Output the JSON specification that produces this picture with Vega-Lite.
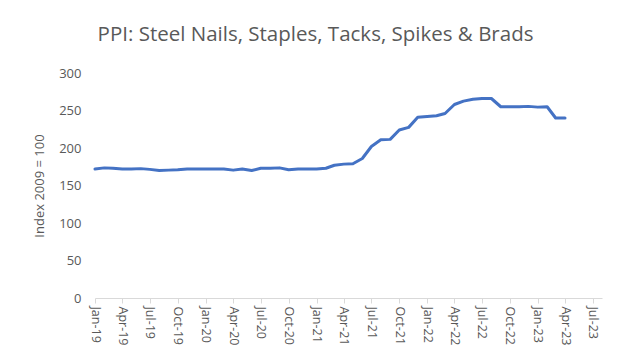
{
  "$schema": "https://vega.github.io/schema/vega-lite/v6.json",
  "autosize": {"type": "none"},
  "width": 507,
  "height": 225,
  "padding": {"left": 95, "top": 73, "right": 16, "bottom": 62},
  "background": "white",
  "title": {
    "text": "PPI: Steel Nails, Staples, Tacks, Spikes & Brads",
    "font": "Open Sans",
    "fontSize": 20.5,
    "fontWeight": "normal",
    "color": "#595959",
    "anchor": "middle",
    "dx": -33,
    "offset": 22
  },
  "config": {
    "view": {"stroke": null},
    "axis": {"labelFont": "Open Sans", "titleFont": "Open Sans", "labelColor": "#595959", "titleColor": "#595959", "grid": false}
  },
  "data": {
    "values": [
      {"date": "2019-01-01", "ppi": 172},
      {"date": "2019-02-01", "ppi": 173.5},
      {"date": "2019-03-01", "ppi": 173},
      {"date": "2019-04-01", "ppi": 172},
      {"date": "2019-05-01", "ppi": 172},
      {"date": "2019-06-01", "ppi": 172.5},
      {"date": "2019-07-01", "ppi": 171.5},
      {"date": "2019-08-01", "ppi": 170},
      {"date": "2019-09-01", "ppi": 170.5},
      {"date": "2019-10-01", "ppi": 171},
      {"date": "2019-11-01", "ppi": 172},
      {"date": "2019-12-01", "ppi": 172},
      {"date": "2020-01-01", "ppi": 172},
      {"date": "2020-02-01", "ppi": 172},
      {"date": "2020-03-01", "ppi": 172},
      {"date": "2020-04-01", "ppi": 170.5},
      {"date": "2020-05-01", "ppi": 172},
      {"date": "2020-06-01", "ppi": 170},
      {"date": "2020-07-01", "ppi": 173},
      {"date": "2020-08-01", "ppi": 173},
      {"date": "2020-09-01", "ppi": 173.5},
      {"date": "2020-10-01", "ppi": 171},
      {"date": "2020-11-01", "ppi": 172},
      {"date": "2020-12-01", "ppi": 172},
      {"date": "2021-01-01", "ppi": 172},
      {"date": "2021-02-01", "ppi": 173},
      {"date": "2021-03-01", "ppi": 177},
      {"date": "2021-04-01", "ppi": 178.5},
      {"date": "2021-05-01", "ppi": 179},
      {"date": "2021-06-01", "ppi": 186},
      {"date": "2021-07-01", "ppi": 202},
      {"date": "2021-08-01", "ppi": 211},
      {"date": "2021-09-01", "ppi": 211.5},
      {"date": "2021-10-01", "ppi": 224},
      {"date": "2021-11-01", "ppi": 227.5},
      {"date": "2021-12-01", "ppi": 241},
      {"date": "2022-01-01", "ppi": 242},
      {"date": "2022-02-01", "ppi": 243},
      {"date": "2022-03-01", "ppi": 246},
      {"date": "2022-04-01", "ppi": 258},
      {"date": "2022-05-01", "ppi": 262.5},
      {"date": "2022-06-01", "ppi": 265},
      {"date": "2022-07-01", "ppi": 266},
      {"date": "2022-08-01", "ppi": 266},
      {"date": "2022-09-01", "ppi": 255},
      {"date": "2022-10-01", "ppi": 255},
      {"date": "2022-11-01", "ppi": 255},
      {"date": "2022-12-01", "ppi": 255.5},
      {"date": "2023-01-01", "ppi": 254.5},
      {"date": "2023-02-01", "ppi": 255},
      {"date": "2023-03-01", "ppi": 240},
      {"date": "2023-04-01", "ppi": 240}
    ]
  },
  "mark": {"type": "line", "color": "#4472C4", "strokeWidth": 3, "strokeJoin": "round", "strokeCap": "round"},
  "encoding": {
    "x": {
      "field": "date",
      "type": "temporal",
      "scale": {"domain": ["2019-01-01", "2023-08-01"], "nice": false},
      "axis": {
        "title": null,
        "format": "%b-%y",
        "tickCount": {"interval": "month", "step": 3},
        "labelAngle": 90,
        "labelFontSize": 12.5,
        "labelPadding": 3,
        "labelOverlap": false,
        "labelFlush": false,
        "domainColor": "#d9d9d9",
        "tickColor": "#d9d9d9",
        "tickSize": 5
      }
    },
    "y": {
      "field": "ppi",
      "type": "quantitative",
      "scale": {"domain": [0, 300], "nice": false},
      "axis": {
        "title": "Index 2009 = 100",
        "values": [0, 50, 100, 150, 200, 250, 300],
        "titleFontSize": 13,
        "titleFontWeight": "normal",
        "titlePadding": 12,
        "labelFontSize": 13,
        "labelPadding": 14,
        "domain": false,
        "ticks": false
      }
    }
  }
}
